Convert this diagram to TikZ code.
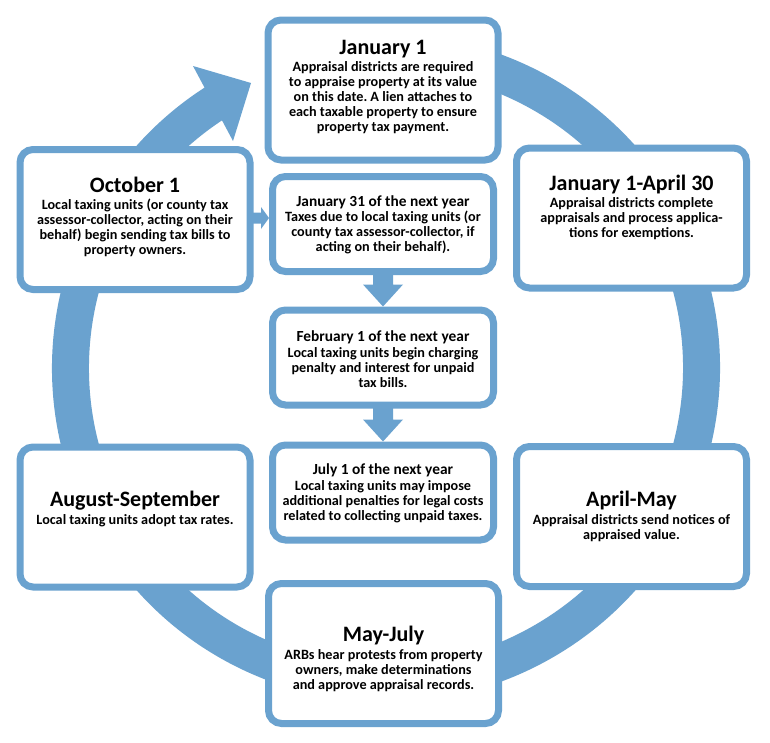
\documentclass[tikz,border=0pt]{standalone}
\usepackage{fontspec}
\setmainfont{Carlito}
\usetikzlibrary{calc}
\definecolor{ringblue}{RGB}{106,162,207}
\frenchspacing
\begin{document}
\begin{tikzpicture}[x=1pt,y=1pt,
  bigbox/.style={draw=ringblue, line width=7pt, fill=white, rounded corners=13pt,
    minimum width=230pt, minimum height=140pt, inner sep=0pt},
  smallbox/.style={bigbox, minimum width=221pt, minimum height=95pt},
  ttl/.style={anchor=base, inner sep=0pt, font=\bfseries\fontsize{22}{22}\selectfont},
  sttl/.style={anchor=base, inner sep=0pt, font=\bfseries\fontsize{15.4}{16}\selectfont},
  body/.style={anchor=base, inner sep=0pt, font=\bfseries\fontsize{14.2}{15}\selectfont},
  blockarrow/.style={fill=ringblue}
]
\useasboundingbox (0,0) rectangle (770,-742);
\fill[white] (0,0) rectangle (770,-742);
% ring
\coordinate (c) at (386,-368);
\draw[ringblue, line width=37pt] ($(c)+(122:315.5)$) arc[start angle=122, end angle=460, radius=315.5];
\fill[ringblue] (193,-66) -- (251,-83) -- (233,-141) -- cycle;

% boxes
\node[bigbox] (jan1) at (383,-90) {};
\node[bigbox] (oct1) at (135,-219.5) {};
\node[smallbox] (jan31) at (383,-224) {};
\node[bigbox] (janapr) at (631.5,-218) {};
\node[smallbox] (feb1) at (383,-357.5) {};
\node[smallbox] (jul1) at (383,-492.5) {};
\node[bigbox] (augsep) at (135,-517) {};
\node[bigbox] (aprmay) at (631.5,-516.5) {};
\node[bigbox] (mayjul) at (383.5,-653.5) {};

% connectors
\coordinate (a1s) at (oct1.east |- 0,-218);
\coordinate (a1e) at (jan31.west |- 0,-218);
\fill[blockarrow] ($(a1s)+(-2,5.5)$) -- ($(a1e)+(-8,5.5)$) -- ($(a1e)+(-8,11)$) -- (a1e)
  -- ($(a1e)+(-8,-11)$) -- ($(a1e)+(-8,-5.5)$) -- ($(a1s)+(-2,-5.5)$) -- cycle;
\coordinate (a2s) at (jan31.south);
\coordinate (a2e) at (feb1.north);
\fill[blockarrow] ($(a2s)+(-10,2)$) -- ($(a2e)+(-10,22)$) -- ($(a2e)+(-20,22)$) -- (a2e)
  -- ($(a2e)+(20,22)$) -- ($(a2e)+(10,22)$) -- ($(a2s)+(10,2)$) -- cycle;
\coordinate (a3s) at (feb1.south);
\coordinate (a3e) at (jul1.north);
\fill[blockarrow] ($(a3s)+(-10,2)$) -- ($(a3e)+(-10,22)$) -- ($(a3e)+(-20,22)$) -- (a3e)
  -- ($(a3e)+(20,22)$) -- ($(a3e)+(10,22)$) -- ($(a3s)+(10,2)$) -- cycle;

% texts
\node[ttl] (jan1t) at (383,-54) {January 1};
\node[body] (jan1b) at (383,-71) {\begin{tabular}[t]{@{}c@{}}Appraisal districts are required\\to appraise property at its value\\on this date. A lien attaches to\\each taxable property to ensure\\property tax payment.\end{tabular}};

\node[ttl] (oct1t) at (135,-192) {October 1};
\node[body] (oct1b) at (135,-209) {\begin{tabular}[t]{@{}c@{}}Local taxing units (or county tax\\assessor-collector, acting on their\\behalf) begin sending tax bills to\\property owners.\end{tabular}};

\node[sttl] (jan31t) at (383,-206) {January 31 of the next year};
\node[body] (jan31b) at (383,-221) {\begin{tabular}[t]{@{}c@{}}Taxes due to local taxing units (or\\county tax assessor-collector, if\\acting on their behalf).\end{tabular}};

\node[ttl] (janaprt) at (631.5,-190) {January 1-April 30};
\node[body] (janaprb) at (631.5,-207) {\begin{tabular}[t]{@{}c@{}}Appraisal districts complete\\appraisals and process applica-\\tions for exemptions.\end{tabular}};

\node[sttl] (feb1t) at (383,-341) {February 1 of the next year};
\node[body] (feb1b) at (383,-357) {\begin{tabular}[t]{@{}c@{}}Local taxing units begin charging\\penalty and interest for unpaid\\tax bills.\end{tabular}};

\node[sttl] (jul1t) at (383,-474) {July 1 of the next year};
\node[body] (jul1b) at (383,-490) {\begin{tabular}[t]{@{}c@{}}Local taxing units may impose\\additional penalties for legal costs\\related to collecting unpaid taxes.\end{tabular}};

\node[ttl] (augsept) at (135,-506) {August-September};
\node[body] (augsepb) at (135,-524) {\begin{tabular}[t]{@{}c@{}}Local taxing units adopt tax rates.\end{tabular}};

\node[ttl] (aprmayt) at (631.5,-506) {April-May};
\node[body] (aprmayb) at (631.5,-524) {\begin{tabular}[t]{@{}c@{}}Appraisal districts send notices of\\appraised value.\end{tabular}};

\node[ttl] (mayjult) at (383.5,-641) {May-July};
\node[body] (mayjulb) at (383.5,-659) {\begin{tabular}[t]{@{}c@{}}ARBs hear protests from property\\owners, make determinations\\and approve appraisal records.\end{tabular}};
\end{tikzpicture}
\end{document}
